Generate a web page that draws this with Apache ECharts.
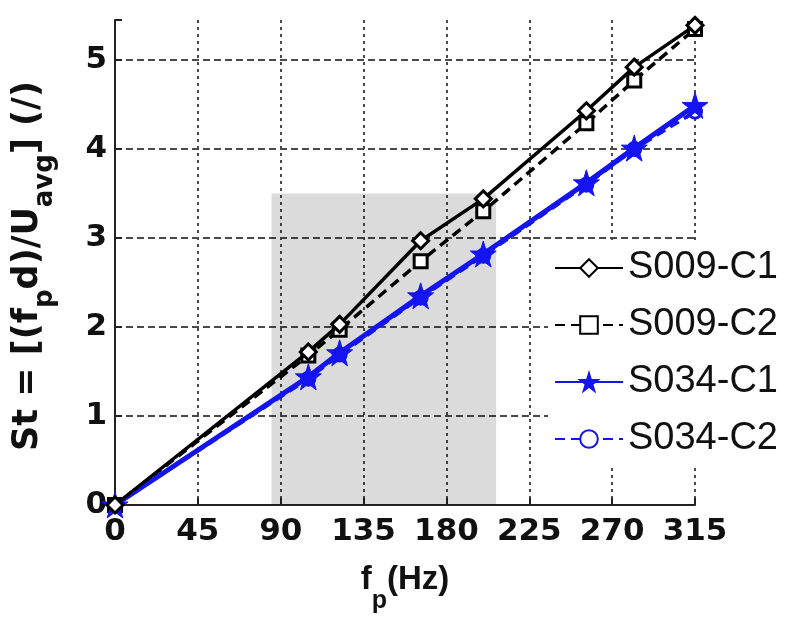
<!DOCTYPE html>
<html>
<head>
<meta charset="utf-8">
<script src="https://cdn.jsdelivr.net/npm/echarts@6/dist/echarts.min.js"></script>
<style>html,body{margin:0;padding:0;background:#fff}#c{width:793px;height:618px}</style>
</head>
<body>
<div id="c"></div>
<script>
// ---- data ----
const fp = [0, 105, 122, 166, 200, 256, 282, 315];
const s009c1 = [0, 1.72, 2.03, 2.97, 3.44, 4.43, 4.92, 5.39];
const s009c2 = [0, 1.68, 1.97, 2.74, 3.30, 4.29, 4.77, 5.35];
const s034c1 = [0, 1.44, 1.71, 2.35, 2.82, 3.62, 4.01, 4.49];
const s034c2 = [0, 1.42, 1.69, 2.33, 2.80, 3.60, 4.00, 4.42];
const seriesNames = ['S009-C1', 'S009-C2', 'S034-C1', 'S034-C2'];
const xTicks = [0, 45, 90, 135, 180, 225, 270, 315];
const yTicks = [0, 1, 2, 3, 4, 5];
const shadeX = [85, 207];
const shadeY = [0, 3.5];

const pairs = ys => fp.map((x, i) => [x, ys[i]]);
const STAR = 'path://M50,0 L61,35 L98,35 L68,57 L79,91 L50,70 L21,91 L32,57 L2,35 L39,35 Z';
const BLUE = '#1414f0';
const FONT = 'Liberation Sans';
const WIDE = 'DejaVu Sans';

const chart = echarts.init(document.getElementById('c'), null, {renderer: 'canvas'});
const gridColors = yTicks.map(() => '#4a4a4a').concat(['rgba(0,0,0,0)']);

chart.setOption({
  animation: false,
  backgroundColor: '#fff',
  textStyle: {fontFamily: FONT},
  grid: {left: 115, right: 98, top: 20, bottom: 113, containLabel: false, outerBoundsMode: 'none'},
  graphic: [{
    type: 'text', x: 28, y: 266, rotation: Math.PI / 2, silent: true,
    style: {
      text: '{a|St = [(f}{s|p}{a|d)/U}{s|avg}{a|] (/)}',
      align: 'center', verticalAlign: 'middle',
      rich: {
        a: {fontFamily: WIDE, fontSize: 35, fontWeight: 'bold', fill: '#111'},
        s: {fontFamily: WIDE, fontSize: 26, fontWeight: 'bold', fill: '#111', padding: [34, 0, 0, 0]}
      }
    }
  }],
  legend: {
    data: seriesNames,
    orient: 'vertical',
    left: 548, top: 242,
    itemWidth: 68, itemHeight: 22, itemGap: 17,
    backgroundColor: '#fff',
    padding: [6, 6, 6, 6],
    textStyle: {fontFamily: FONT, fontSize: 38, color: '#111', lineHeight: 40}
  },
  xAxis: {
    type: 'value', min: 0, max: 315, interval: 45,
    axisLine: {lineStyle: {color: '#222', width: 2}},
    axisTick: {inside: true, length: 7, lineStyle: {color: '#222', width: 2}},
    axisLabel: {fontFamily: WIDE, fontSize: 31, fontWeight: 'bold', color: '#111', margin: 11},
    splitLine: {show: true, lineStyle: {color: '#4a4a4a', width: 2, type: [3, 4]}},
    name: '{a|f}{s|p}{a|(Hz)}',
    nameLocation: 'middle', nameGap: 40,
    nameTextStyle: {
      rich: {
        a: {fontFamily: FONT, fontSize: 33, fontWeight: 'bold', color: '#111'},
        s: {fontFamily: FONT, fontSize: 25, fontWeight: 'bold', color: '#111', padding: [44, 0, 0, 0]}
      }
    }
  },
  yAxis: {
    type: 'value', min: 0, max: 5.45, interval: 1,
    axisLine: {show: true, lineStyle: {color: '#222', width: 2}},
    axisTick: {show: true, inside: true, length: 7, lineStyle: {color: '#222', width: 2}},
    axisLabel: {
      fontFamily: WIDE, fontSize: 31, fontWeight: 'bold', color: '#111', margin: 8,
      formatter: v => (Number.isInteger(v) ? String(v) : '')
    },
    splitLine: {show: true, lineStyle: {color: gridColors, width: 2, type: [7, 4]}}
  },
  series: [
    {
      name: 'shade', type: 'line', data: [], silent: true,
      markArea: {
        silent: true,
        itemStyle: {color: 'rgba(0,0,0,0.14)'},
        data: [[{xAxis: shadeX[0], yAxis: shadeY[0]}, {xAxis: shadeX[1], yAxis: shadeY[1]}]]
      }
    },
    {
      name: seriesNames[0], type: 'line', data: pairs(s009c1),
      symbol: 'diamond', symbolSize: 16, showAllSymbol: true, z: 5,
      lineStyle: {color: '#000', width: 3.5, type: 'solid'},
      itemStyle: {color: '#fff', borderColor: '#000', borderWidth: 3}
    },
    {
      name: seriesNames[1], type: 'line', data: pairs(s009c2),
      symbol: 'rect', symbolSize: 13, z: 4,
      lineStyle: {color: '#000', width: 3.5, type: [10, 6]},
      itemStyle: {color: '#fff', borderColor: '#000', borderWidth: 3}
    },
    {
      name: seriesNames[2], type: 'line', data: pairs(s034c1),
      symbol: STAR, symbolSize: 26, z: 4,
      lineStyle: {color: BLUE, width: 5, type: 'solid'},
      itemStyle: {color: BLUE, borderColor: BLUE, borderWidth: 1}
    },
    {
      name: seriesNames[3], type: 'line', data: pairs(s034c2),
      symbol: 'circle', symbolSize: 13, z: 3,
      lineStyle: {color: BLUE, width: 3.5, type: [10, 6]},
      itemStyle: {color: '#fff', borderColor: BLUE, borderWidth: 3}
    }
  ]
});
</script>
</body>
</html>
